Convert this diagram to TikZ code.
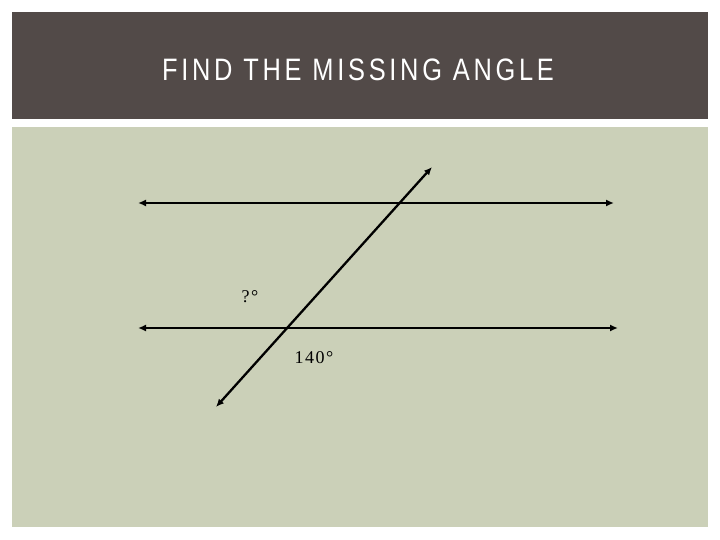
\documentclass[tikz,border=0pt]{standalone}
\usepackage{fontspec}
\setmainfont{Liberation Serif}
\newfontfamily\titlefont[FakeStretch=0.82,LetterSpace=12]{Liberation Sans}
\newfontfamily\labelfont[LetterSpace=8]{Liberation Serif}
\usetikzlibrary{arrows.meta}
\definecolor{barcol}{HTML}{524A48}
\definecolor{panelcol}{HTML}{CBD0B8}
\tikzset{
  lineseg/.style={line width=2.3pt, {Latex[length=8pt,width=7pt]}-{Latex[length=8pt,width=7pt]}},
  anglelabel/.style={font=\labelfont\fontsize{18}{20}\selectfont, inner sep=0pt}
}
\begin{document}
\begin{tikzpicture}[x=1pt,y=-1pt]
\useasboundingbox (0,0) rectangle (720,540);
\fill[white] (0,0) rectangle (720,540);
\fill[barcol] (12,12) rectangle (708,119);
\fill[panelcol] (12,127) rectangle (708,527);
\node[text=white, font=\titlefont\fontsize{31}{34}\selectfont] (title) at (358,70) {FIND THE MISSING ANGLE};
\coordinate (a1) at (138,203);
\coordinate (a2) at (614,203);
\coordinate (b1) at (138,328);
\coordinate (b2) at (618,328);
\coordinate (t1) at (216,407);
\coordinate (t2) at (432,167);
\draw[lineseg] (a1) -- (a2);
\draw[lineseg] (b1) -- (b2);
\draw[lineseg] (t1) -- (t2);
\node[anglelabel] (q) at (250,297) {?°};
\node[anglelabel] (k) at (314,358) {140°};
\end{tikzpicture}
\end{document}
